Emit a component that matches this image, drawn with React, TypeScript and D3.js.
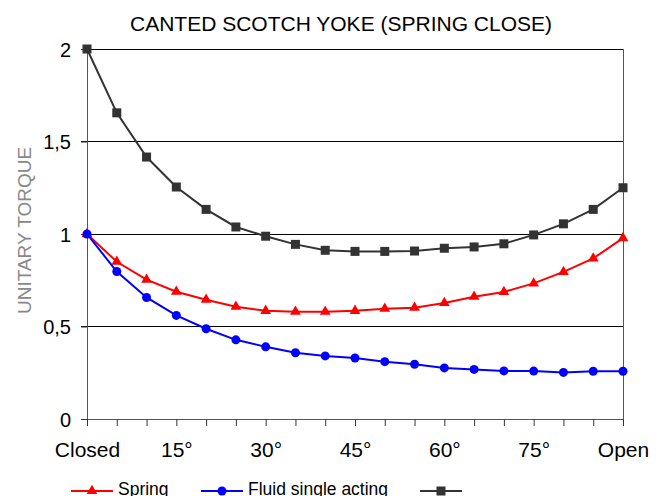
import React, { useEffect, useRef } from 'react';
import * as d3 from 'd3';

// chart data
const angles = [0, 5, 10, 15, 20, 25, 30, 35, 40, 45, 50, 55, 60, 65, 70, 75, 80, 85, 90];
const xLabels = ['Closed', '', '', '15°', '', '', '30°', '', '', '45°', '', '', '60°', '', '', '75°', '', '', 'Open'];
const spring = [1.0, 0.85, 0.753, 0.688, 0.645, 0.607, 0.585, 0.58, 0.58, 0.585, 0.596, 0.602, 0.627, 0.661, 0.687, 0.733, 0.795, 0.868, 0.978];
const fluid = [1.0, 0.797, 0.657, 0.56, 0.488, 0.428, 0.39, 0.358, 0.341, 0.33, 0.31, 0.296, 0.276, 0.268, 0.26, 0.259, 0.252, 0.258, 0.258];
const combined = [2.0, 1.655, 1.416, 1.254, 1.133, 1.038, 0.988, 0.944, 0.912, 0.906, 0.906, 0.908, 0.923, 0.93, 0.947, 0.995, 1.055, 1.133, 1.25];
const yTicks = [0, 0.5, 1, 1.5, 2];
const legendNames = ['Spring', 'Fluid single acting', ''];

const W = 664;
const H = 496;
const FONT = 'Arial, "Liberation Sans", sans-serif';

const App = () => {
  const ref = useRef<SVGSVGElement>(null);

  useEffect(() => {
    const svg = d3.select(ref.current);
    svg.selectAll('*').remove();

    const x = d3.scaleLinear().domain([0, 90]).range([87, 623]);
    const y = d3.scaleLinear().domain([0, 2]).range([419, 49]);

    // title
    svg.append('text')
      .attr('x', 341).attr('y', 31)
      .attr('text-anchor', 'middle')
      .attr('font-family', FONT).attr('font-size', 21)
      .attr('fill', '#000')
      .text('CANTED SCOTCH YOKE (SPRING CLOSE)');

    // horizontal gridlines
    svg.append('g').selectAll('line').data(yTicks.filter(d => d > 0)).join('line')
      .attr('x1', 81).attr('x2', 623)
      .attr('y1', d => y(d)).attr('y2', d => y(d))
      .attr('stroke', '#000').attr('stroke-width', 1)
      .attr('shape-rendering', 'crispEdges');

    // y axis
    const yAxis = svg.append('g').attr('transform', 'translate(87,0)')
      .call(d3.axisLeft(y).tickValues(yTicks).tickSize(6).tickFormat(d => String(d).replace('.', ',')));
    yAxis.select('.domain').attr('stroke', '#555');
    yAxis.selectAll('.tick line').attr('stroke', '#333');
    yAxis.selectAll('text')
      .attr('font-family', FONT).attr('font-size', 20).attr('fill', '#000')
      .attr('x', -16).attr('dy', '0.35em');

    // x axis
    const xAxis = svg.append('g').attr('transform', `translate(0,${y(0)})`)
      .call(d3.axisBottom(x).tickValues(angles).tickSize(7).tickFormat((d, i) => xLabels[i]));
    xAxis.select('.domain').attr('stroke', '#555');
    xAxis.selectAll('.tick line').attr('stroke', '#333');
    xAxis.selectAll('text')
      .attr('font-family', FONT).attr('font-size', 21).attr('fill', '#000')
      .attr('y', 38).attr('dy', 0);

    // right border
    svg.append('line')
      .attr('x1', 623).attr('x2', 623).attr('y1', y(2)).attr('y2', y(0))
      .attr('stroke', '#555').attr('shape-rendering', 'crispEdges');

    // y label, top clipped like the original
    svg.append('clipPath').attr('id', 'ylab-clip')
      .append('rect').attr('x', 0).attr('y', 146).attr('width', 60).attr('height', 300);
    svg.append('g').attr('clip-path', 'url(#ylab-clip)')
      .append('text')
      .attr('transform', 'translate(31,314) rotate(-90)')
      .attr('font-family', FONT).attr('font-size', 19)
      .attr('fill', '#888')
      .text('UNITARY TORQUE');

    const line = d3.line<number>().x((d, i) => x(angles[i])).y(d => y(d));
    const tri = d3.symbol().type(d3.symbolTriangle).size(50);

    const series = [
      { data: spring, color: '#ff0000', marker: 'tri' },
      { data: fluid, color: '#0000ff', marker: 'circle' },
      { data: combined, color: '#333333', marker: 'square' },
    ];

    const drawMarker = (g: any, cx: number, cy: number, kind: string, color: string) => {
      if (kind === 'tri') {
        g.append('path').attr('d', tri()).attr('transform', `translate(${cx},${cy})`).attr('fill', color);
      } else if (kind === 'circle') {
        g.append('circle').attr('cx', cx).attr('cy', cy).attr('r', 4.5).attr('fill', color);
      } else {
        g.append('rect').attr('x', cx - 4.5).attr('y', cy - 4.5).attr('width', 9).attr('height', 9).attr('fill', color);
      }
    };

    series.forEach(s => {
      svg.append('path')
        .datum(s.data)
        .attr('d', line)
        .attr('fill', 'none')
        .attr('stroke', s.color)
        .attr('stroke-width', 2);
      const g = svg.append('g');
      s.data.forEach((v, i) => drawMarker(g, x(angles[i]), y(v), s.marker, s.color));
    });

    // legend
    const legendX = [71, 201, 420];
    series.forEach((s, i) => {
      const lx = legendX[i];
      const ly = 491;
      svg.append('line')
        .attr('x1', lx).attr('x2', lx + 42).attr('y1', ly).attr('y2', ly)
        .attr('stroke', s.color).attr('stroke-width', 2);
      drawMarker(svg.append('g'), lx + 21, ly, s.marker, s.color);
      svg.append('text')
        .attr('x', lx + 47).attr('y', ly + 4)
        .attr('font-family', FONT).attr('font-size', 17.5)
        .attr('fill', '#000')
        .text(legendNames[i]);
    });
  }, []);

  return (
    <svg ref={ref} width={W} height={H}
      style={{ position: 'absolute', left: 0, top: 0, background: '#fff', display: 'block' }} />
  );
};

export default App;
